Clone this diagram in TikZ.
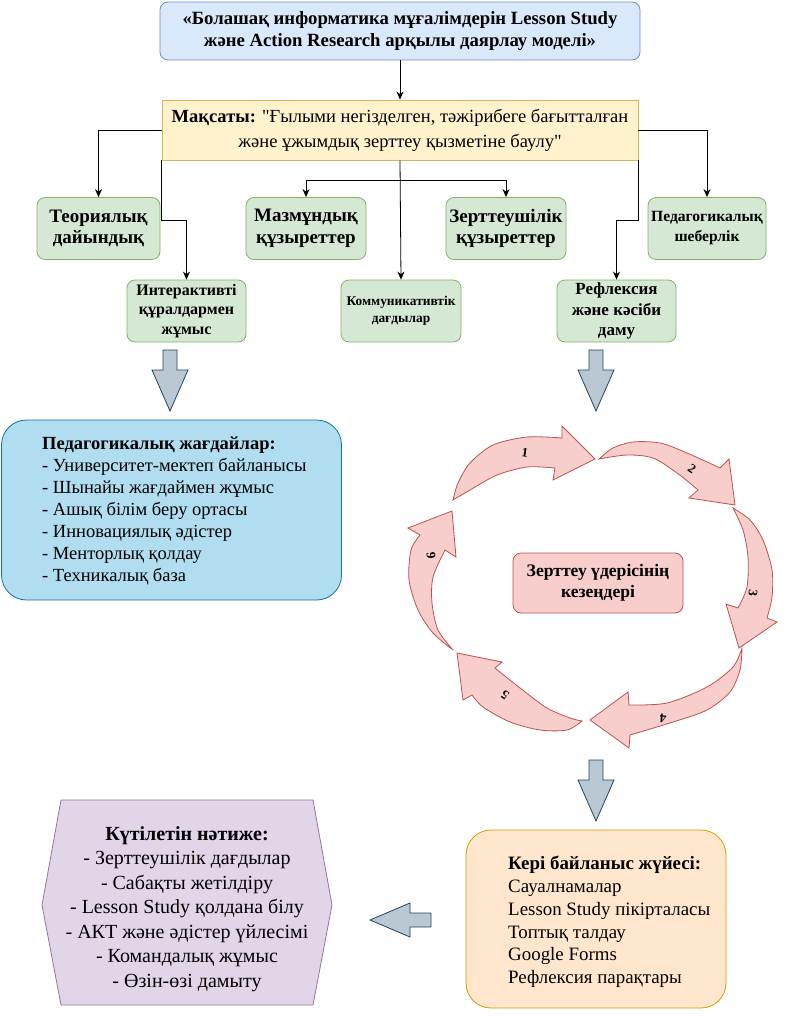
\documentclass[tikz,border=0pt]{standalone}
\usepackage{fontspec}
\setmainfont{Liberation Serif}[Ligatures=TeXOff]
\usetikzlibrary{arrows.meta}
\definecolor{title-blue}{HTML}{DAE8FC}
\definecolor{title-edge}{HTML}{6C8EBF}
\definecolor{goal-yellow}{HTML}{FFF2CC}
\definecolor{goal-edge}{HTML}{D6B656}
\definecolor{skill-green}{HTML}{D5E8D4}
\definecolor{skill-edge}{HTML}{82B366}
\definecolor{cond-blue}{HTML}{B1DDF0}
\definecolor{cond-edge}{HTML}{10739E}
\definecolor{cycle-red}{HTML}{F8CECC}
\definecolor{cycle-edge}{HTML}{B85450}
\definecolor{feed-orange}{HTML}{FFE6CC}
\definecolor{feed-edge}{HTML}{D79B00}
\definecolor{result-purple}{HTML}{E1D5E7}
\definecolor{result-edge}{HTML}{9673A6}
\definecolor{block-gray}{HTML}{BAC8D3}
\definecolor{block-edge}{HTML}{23445D}
\newcommand{\fsz}[2]{\fontsize{#1}{#2}\selectfont}
\tikzset{
  box/.style={draw, rounded corners=8pt, line width=0.8pt, align=center, inner sep=0pt},
  skill/.style={box, fill=skill-green, draw=skill-edge, minimum width=120pt, minimum height=62pt},
  conn/.style={-{Stealth[length=8pt,width=7pt,inset=2.5pt]}, line width=0.8pt},
  cyc/.style={fill=cycle-red, draw=cycle-edge, line width=0.8pt},
  blockarrow/.style={fill=block-gray, draw=block-edge, line width=0.8pt},
  num/.style={font=\fsz{13}{15}\bfseries, inner sep=0pt}
}

\begin{document}
\begin{tikzpicture}[x=1pt,y=-1pt]
\useasboundingbox (0,0) rectangle (810,1016);
% model title and goal
\node[box, fill=title-blue, draw=title-edge, minimum width=480pt, minimum height=58pt, font=\fsz{18.7}{21.7}\bfseries] (title) at (400,31) {«Болашақ информатика мұғалімдерін Lesson Study\\және Action Research арқылы даярлау моделі»};
\node[box, rounded corners=0pt, fill=goal-yellow, draw=goal-edge, minimum width=476pt, minimum height=60pt, font=\fsz{18.5}{25}] (goal) at (400,130) {\textbf{Мақсаты:} "Ғылыми негізделген, тәжірибеге бағытталған\\және ұжымдық зерттеу қызметіне баулу"};
% competences
\node[skill, minimum width=123pt, font=\fsz{19}{21.7}\bfseries] (theory) at (98.5,228.5) {Теориялық\\дайындық};
\node[skill, font=\fsz{19}{21.7}\bfseries] (content) at (306,228.5) {Мазмұндық\\құзыреттер};
\node[skill, font=\fsz{19}{21.7}\bfseries] (research) at (506,228.5) {Зерттеушілік\\құзыреттер};
\node[skill, minimum width=118pt, font=\fsz{15.6}{20}\bfseries] (pedskill) at (707,228.5) {Педагогикалық\\шеберлік};
\node[skill, minimum width=119pt, font=\fsz{16}{19.5}\bfseries] (interact) at (186.5,311) {Интерактивті\\құралдармен\\жұмыс};
\node[skill, font=\fsz{13.4}{16.7}\bfseries] (commun) at (401,311) {Коммуникативтік\\дағдылар};
\node[skill, minimum width=119pt, font=\fsz{17}{20.8}\bfseries] (reflect) at (616.5,311) {Рефлексия\\және кәсіби\\даму};
\coordinate (forkC) at (400,180);
\coordinate (bendL) at (186.5,220);
\coordinate (bendR) at (616.5,220);
% connectors
\draw[conn] (title) -- (goal);
\draw[conn] (goal.west) -| (theory.north);
\draw[conn] (goal.south west) |- (bendL) -- (interact.north);
\draw[conn] (goal.south) -- (commun.north);
\draw[conn] (forkC) -| (content.north);
\draw[conn] (forkC) -| (research.north);
\draw[conn] (goal.south east) |- (bendR) -- (reflect.north);
\draw[conn] (goal.east) -| (pedskill.north);
% block arrows
\foreach \x/\y in {170/350, 596/350, 596/760}{
  \filldraw[blockarrow] (\x-7,\y) -- (\x+7,\y) -- (\x+7,\y+20) -- (\x+18,\y+20) -- (\x,\y+61) -- (\x-18,\y+20) -- (\x-7,\y+20) -- cycle;
}
\filldraw[blockarrow] (431,913) -- (410,913) -- (410,903) -- (370,920) -- (410,937) -- (410,927) -- (431,927) -- cycle;
% pedagogical conditions
\node[box, rounded corners=25pt, fill=cond-blue, draw=cond-edge, minimum width=340pt, minimum height=180pt] (cond) at (171.5,510) {};
\node[anchor=west, align=left, inner sep=0pt, font=\fsz{18.5}{22}] (condtext) at (42,511) {\textbf{Педагогикалық жағдайлар:}\\- Университет-мектеп байланысы\\- Шынайы жағдаймен жұмыс\\- Ашық білім беру ортасы\\- Инновациялық әдістер\\- Менторлық қолдау\\- Техникалық база};
% research cycle
\node[box, fill=cycle-red, draw=cycle-edge, minimum width=170pt, minimum height=60pt, font=\fsz{17.6}{21}\bfseries] (stages) at (598,583) {Зерттеу үдерісінің\\кезеңдері};
\filldraw[cyc] plot[smooth] coordinates {(453,500) (458,483) (470,463) (493,445) (527,437) (562,438)} -- (562,426) -- (595,459) -- (553,480) -- (555,468) -- plot[smooth] coordinates {(555,468) (527,467) (497,475) (470,490) (453,500)} -- cycle;
\filldraw[cyc] plot[smooth] coordinates {(599,459) (613,448) (633,442) (660,443) (687,453) (720,468)} -- (729,459) -- (735,505) -- (689,498) -- (698,490) -- plot[smooth] coordinates {(698,490) (677,473) (653,458) (627,455) (599,459)} -- cycle;
\filldraw[cyc] plot[smooth] coordinates {(733,508) (750,520) (763,540) (772,570) (772,597) (767,618)} -- (777,622) -- (739,648) -- (726,604) -- (738,608) -- plot[smooth] coordinates {(738,608) (747,587) (748,557) (743,530) (733,508)} -- cycle;
\filldraw[cyc] plot[smooth] coordinates {(742,648) (740,670) (730,692) (707,710) (673,722) (630,735)} -- (629,748) -- (590,720) -- (628,692) -- (629,705) -- plot[smooth] coordinates {(629,705) (667,703) (707,687) (733,667) (742,648)} -- cycle;
\filldraw[cyc] plot[smooth] coordinates {(582,721) (567,730) (540,730) (510,722) (483,707) (472,695)} -- (463,700) -- (457,653) -- (502,662) -- (495,668) -- plot[smooth] coordinates {(495,668) (520,688) (547,708) (570,718) (582,721)} -- cycle;
\filldraw[cyc] plot[smooth] coordinates {(453,650) (433,633) (418,610) (409,580) (411,550) (420,535)} -- (408,528) -- (452,511) -- (456,557) -- (445,550) -- plot[smooth] coordinates {(445,550) (433,577) (432,603) (438,630) (453,650)} -- cycle;
\foreach \n/\x/\y/\r in {1/525/453/-8, 2/692/469/-35, 3/753/593/-95, 4/663/718/175, 5/505/695/145, 6/431/556/95}
  \node[num, rotate=\r] (n\n) at (\x,\y) {\n};
% feedback
\node[box, rounded corners=25pt, fill=feed-orange, draw=feed-edge, minimum width=260pt, minimum height=178pt] (feed) at (596,919) {};
\node[anchor=west, align=left, inner sep=0pt, font=\fsz{18.9}{22.8}] (feedtext) at (508,922) {\textbf{Кері байланыс жүйесі:}\\Сауалнамалар\\Lesson Study пікірталасы\\Топтық талдау\\Google Forms\\Рефлексия парақтары};
% expected result
\filldraw[fill=result-purple, draw=result-edge, line width=0.8pt] (61,800) -- (313,800) -- (332,905) -- (313,1005) -- (61,1005) -- (42,905) -- cycle;
\node[align=center, font=\fsz{20}{24.5}] (result) at (187,909) {\textbf{Күтілетін нәтиже:}\\- Зерттеушілік дағдылар\\- Сабақты жетілдіру\\- Lesson Study қолдана білу\\- АКТ және әдістер үйлесімі\\- Командалық жұмыс\\- Өзін-өзі дамыту};
\end{tikzpicture}
\end{document}
